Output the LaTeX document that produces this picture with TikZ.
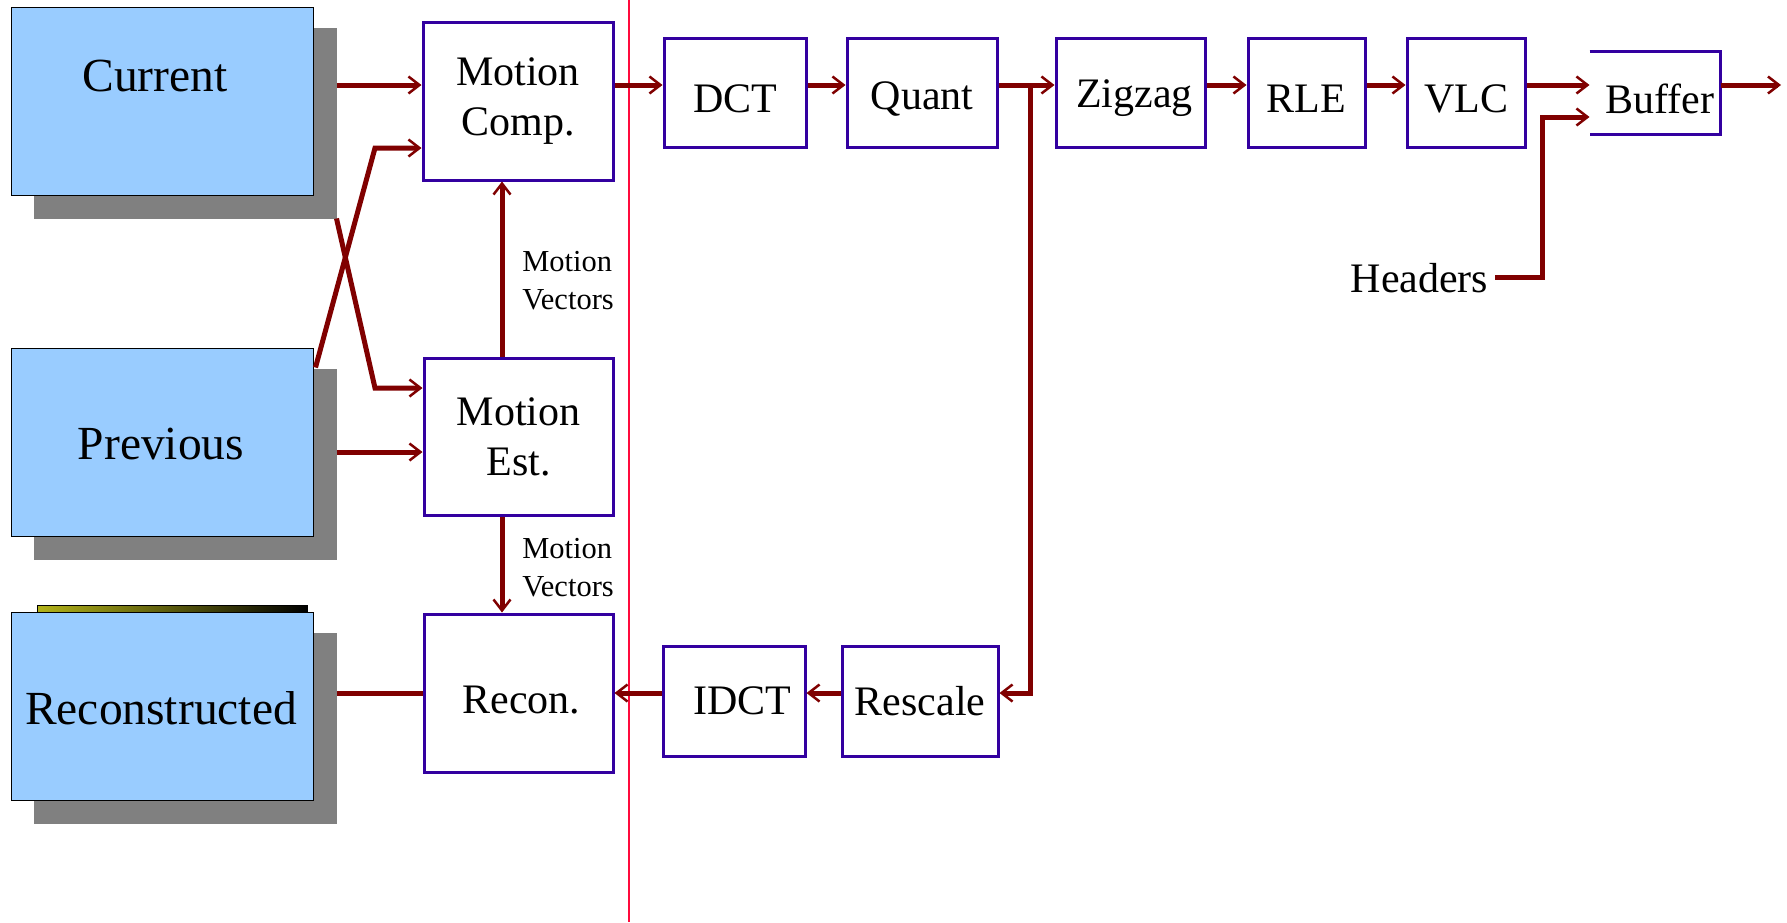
\documentclass[tikz,border=0pt]{standalone}
\usepackage{fontspec}
\setmainfont{Liberation Serif}
\usetikzlibrary{arrows.meta,calc}
\definecolor{boxc}{HTML}{3300A0}
\definecolor{framec}{HTML}{99CCFF}
\definecolor{shadc}{HTML}{808080}
\definecolor{arrc}{HTML}{800000}
\definecolor{divc}{HTML}{FF0A3C}
\begin{document}
\begin{tikzpicture}[x=1pt,y=-1pt,
  blk/.style={draw=boxc, line width=3pt, fill=white, inner sep=0pt, font=\fontsize{42}{50}\selectfont, align=center},
  frame/.style={draw=black, line width=1pt, fill=framec, inner sep=0pt, minimum width=302pt, minimum height=188pt},
  big/.style={font=\fontsize{47.5}{55}\selectfont, inner sep=0pt},
  arr/.style={draw=arrc, line width=5pt, -{Straight Barb[length=11pt,width=17pt,line width=2.5pt]}},
  link/.style={draw=arrc, line width=5pt},
  lbl/.style={font=\fontsize{30.5}{38}\selectfont, align=left, inner sep=0pt},
  txt/.style={font=\fontsize{42}{50}\selectfont, inner sep=0pt}
]
\useasboundingbox (0,0) rectangle (1787,922);
\fill[white] (0,0) rectangle (1787,922);

% row coordinates
\coordinate (rowA) at (0,85);
\coordinate (rowB) at (0,693);
\coordinate (colV) at (502,0);

% picture frames with shadows
\fill[shadc] (34,633) rectangle (336,823);
\shade[left color=olive!60!white, middle color=white!70!brown, right color=black, draw=black, line width=1pt] (37,605) rectangle (307,613);
\node[frame] (cur) at (162,101) {};
\node[frame] (prev) at (162,442) {};
\node[frame] (rec) at (162,706) {};
\fill[shadc] (cur.south west) ++(23,0) rectangle ($(cur.south east)+(23,23)$);
\fill[shadc] (cur.north east) ++(0,21) rectangle ($(cur.south east)+(23,23)$);
\fill[shadc] (prev.south west) ++(23,0) rectangle ($(prev.south east)+(23,23)$);
\fill[shadc] (prev.north east) ++(0,21) rectangle ($(prev.south east)+(23,23)$);
\fill[shadc] (rec.south west) ++(23,0) rectangle ($(rec.south east)+(23,23)$);
\fill[shadc] (rec.north east) ++(0,21) rectangle ($(rec.south east)+(23,23)$);
\node[big] (curt) at (155,76) {Current};
\node[big] (prevt) at (161,444) {Previous};
\node[big] (rect) at (161,708) {Reconstructed};
\coordinate (curS) at ($(cur.south east)+(23,23)$);
\coordinate (curE) at ($(cur.east)+(23,0)$);
\coordinate (prevE) at ($(prev.east)+(23,0)$);
\coordinate (prevC) at ($(prev.north east)+(2,20)$);
\coordinate (recE) at ($(rec.east)+(23,0)$);

% divider
\draw[divc, line width=2.5pt] (629,0) -- (629,922);

% processing blocks
\node[blk, minimum width=190pt, minimum height=158pt] (mc) at (518,101) {Motion\\Comp.};
\node[blk, minimum width=189pt, minimum height=157pt] (me) at (518.5,436.5) {Motion\\Est.};
\node[blk, minimum width=189pt, minimum height=158pt] (rc) at (518.5,693) {};
\node[blk, minimum width=142pt, minimum height=109pt] (dct) at (735,92.5) {};
\node[blk, minimum width=150pt, minimum height=109pt] (qt) at (922,92.5) {};
\node[blk, minimum width=149pt, minimum height=109pt] (zz) at (1130.5,92.5) {};
\node[blk, minimum width=117pt, minimum height=109pt] (rle) at (1306.5,92.5) {};
\node[blk, minimum width=118pt, minimum height=109pt] (vlc) at (1466,92.5) {};
\node[blk, minimum width=142pt, minimum height=110pt] (idct) at (734,701) {};
\node[blk, minimum width=156pt, minimum height=110pt] (rs) at (920,701) {};
\node[blk, draw=none, fill=none, minimum width=128pt, minimum height=80pt] (buf) at (1655,93) {};
\draw[boxc, line width=3pt] (buf.north west) -- (buf.north east) -- (buf.south east) -- (buf.south west);

% block labels
\node[txt] (rct) at ($(rc)+(3,7)$) {Recon.};
\node[txt] (dctt) at ($(dct)+(0,6)$) {DCT};
\node[txt] (qtt) at ($(qt)+(0,6)$) {Quant};
\node[txt] (zzt) at ($(zz)+(4,6)$) {Zigzag};
\node[txt] (rlet) at ($(rle)+(0,6)$) {RLE};
\node[txt] (vlct) at ($(vlc)+(0,6)$) {VLC};
\node[txt] (idctt) at ($(idct)+(8,0)$) {IDCT};
\node[txt] (rst) at ($(rs)+(0,0)$) {Rescale};
\node[txt] (buft) at ($(buf)+(5,6)$) {Buffer};
\node[txt, anchor=base] (hd) at (1419.5,292.7) {Headers};
\node[lbl] (mv1) at (568,281) {Motion\\Vectors};
\node[lbl] (mv2) at (568,567.5) {Motion\\Vectors};
\coordinate (out) at (1781,85);
\coordinate (br) at (1030,85);
\coordinate (hdE) at (1495,277);
\coordinate (hdC) at (1542,117);

% connectors
\draw[arr] (curE |- rowA) -- (mc.west |- rowA);
\draw[arr] (prevC) -- (375,148) -- (mc.west |- 0,148);
\draw[arr] (curS) -- (375,388) -- (me.west |- 0,388);
\draw[arr] (prevE |- 0,452) -- (me.west |- 0,452);
\draw[arr] (me.north -| colV) -- (mc.south -| colV);
\draw[arr] (me.south -| colV) -- (rc.north -| colV);
\draw[link] (rc.west |- rowB) -- (recE |- rowB);
\draw[arr] (mc.east |- rowA) -- (dct.west |- rowA);
\draw[arr] (dct.east |- rowA) -- (qt.west |- rowA);
\draw[arr] (qt.east |- rowA) -- (zz.west |- rowA);
\draw[arr] (br) |- (rs.east |- rowB);
\draw[arr] (zz.east |- rowA) -- (rle.west |- rowA);
\draw[arr] (rle.east |- rowA) -- (vlc.west |- rowA);
\draw[arr] (vlc.east |- rowA) -- (buf.west |- rowA);
\draw[arr] (buf.east |- rowA) -- (out);
\draw[arr] (hdE) -| (hdC) -- (buf.west |- hdC);
\draw[arr] (rs.west |- rowB) -- (idct.east |- rowB);
\draw[arr] (idct.west |- rowB) -- (rc.east |- rowB);
\end{tikzpicture}
\end{document}
